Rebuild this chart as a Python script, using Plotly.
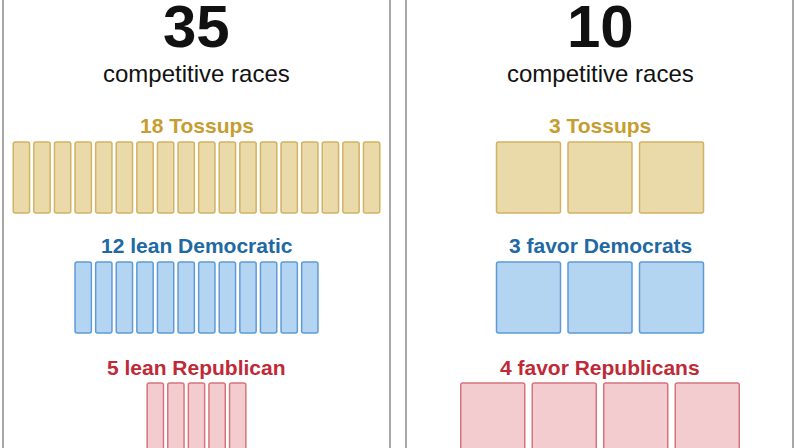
import plotly.graph_objects as go

# ---- data ----
totals = [35, 10]
left_labels = ["18 Tossups", "12 lean Democratic", "5 lean Republican"]
left_counts = [18, 12, 5]
right_labels = ["3 Tossups", "3 favor Democrats", "4 favor Republicans"]
right_counts = [3, 3, 4]
subtitle = "competitive races"

# ---- styles ----
W, H = 796, 448
FONT = "Liberation Sans, Arial, sans-serif"
text_cols = ["#c69d30", "#2169a3", "#be2a37"]
fill_cols = ["#ebdaa9", "#b4d5f1", "#f3ccd0"]
line_cols = ["#d2b263", "#5e9bd6", "#d8737c"]
row_tops = [142, 262, 383]
row_h = 71
label_y = [125, 245, 367]
panels = [
    dict(cx=196.5, pitch=20.6, bw=16.3, counts=left_counts, labels=left_labels, total=totals[0],
         x0=3, x1=390),
    dict(cx=600.0, pitch=71.5, bw=64, counts=right_counts, labels=right_labels, total=totals[1],
         x0=406, x1=793),
]

fig = go.Figure()
annotations = []
shapes = []
for p in panels:
    for r, n in enumerate(p["counts"]):
        xs = [p["cx"] + (i - (n - 1) / 2) * p["pitch"] for i in range(n)]
        fig.add_trace(go.Bar(
            x=xs, y=[row_h] * n, base=[row_tops[r]] * n, width=p["bw"],
            marker=dict(color=fill_cols[r], line=dict(color=line_cols[r], width=1.5), cornerradius=2),
            hoverinfo="skip", showlegend=False,
        ))
        annotations.append(dict(x=p["cx"], y=label_y[r], text=f"<b>{p['labels'][r]}</b>",
                                showarrow=False, xref="x", yref="y",
                                font=dict(family=FONT, size=21, color=text_cols[r])))
    annotations.append(dict(x=p["cx"], y=26, text=f"<b>{p['total']}</b>", showarrow=False,
                            xref="x", yref="y", font=dict(family=FONT, size=60, color="#111111")))
    annotations.append(dict(x=p["cx"], y=73, text=subtitle, showarrow=False,
                            xref="x", yref="y", font=dict(family=FONT, size=24, color="#111111")))
    for xb in (p["x0"], p["x1"]):
        shapes.append(dict(type="line", xref="x", yref="y", x0=xb, x1=xb, y0=-5, y1=H + 5,
                           line=dict(color="#a8a8a8", width=2), layer="above"))

fig.update_layout(
    width=W, height=H, margin=dict(l=0, r=0, t=0, b=0),
    paper_bgcolor="white", plot_bgcolor="white",
    barmode="overlay",
    xaxis=dict(range=[0, W], visible=False, domain=[0, 1], fixedrange=True),
    yaxis=dict(range=[H, 0], visible=False, domain=[0, 1], fixedrange=True),
    annotations=annotations, shapes=shapes,
)
fig.write_html("out.html")
